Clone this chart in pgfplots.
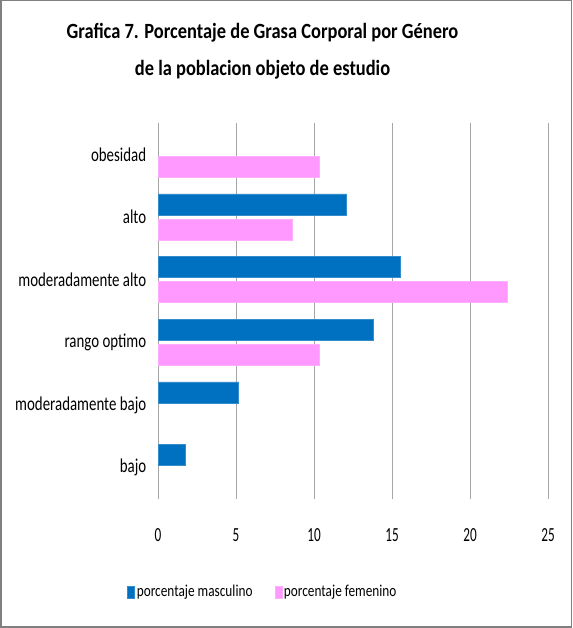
\documentclass[border=0pt]{standalone}
\usepackage{pgfplots}
\pgfplotsset{compat=1.18}
\usepackage{fontspec}
\setmainfont{Carlito}
\newfontfamily\titlefont[FakeStretch=0.85]{Carlito}
\newfontfamily\labelfont[FakeStretch=0.76]{Carlito}
\newfontfamily\tickfont[FakeStretch=0.66]{Carlito}
\newfontfamily\legfont[FakeStretch=0.8]{Carlito}
\definecolor{masc}{HTML}{0070C0}
\definecolor{fem}{HTML}{FF99FF}
\definecolor{gridc}{HTML}{A6A6A6}
\begin{document}
\begin{tikzpicture}
% marco exterior
\draw[gray, line width=1.5pt] (0.75pt,0.75pt) rectangle (571.25pt,627.25pt);
\node[font=\titlefont\bfseries\fontsize{21.7}{26}\selectfont, anchor=base] at (262.5pt,589pt)
  {Grafica 7. Porcentaje de Grasa Corporal por Género};
\node[font=\titlefont\bfseries\fontsize{21.7}{26}\selectfont, anchor=base] at (262.5pt,552pt)
  {de la poblacion objeto de estudio};
\begin{axis}[
  at={(158pt,129pt)}, anchor=south west,
  scale only axis, width=390pt, height=376pt,
  xbar,
  xmin=0, xmax=25, ymin=-0.5, ymax=5.5,
  xtick={0,5,...,25},
  ytick={0,...,5},
  yticklabels={bajo, moderadamente bajo, rango optimo, moderadamente alto, alto, obesidad},
  xmajorgrids, major grid style={gridc, line width=0.8pt},
  axis line style={draw=none},
  tick style={draw=none},
  /pgf/number format/assume math mode=true,
  xticklabel style={font=\tickfont\fontsize{20}{22}\selectfont, yshift=-26pt},
  yticklabel style={font=\labelfont\fontsize{19.6}{22}\selectfont, xshift=-4pt},
  bar width=0.335,
  legend style={at={(0.269,-0.247)}, anchor=center, draw=none, legend columns=2,
    font=\legfont\fontsize{16.6}{18}\selectfont,
    /tikz/every even column/.append style={column sep=20pt}},
  legend image code/.code={\fill[#1] (0pt,-6pt) rectangle (7pt,6pt);},
]
\addplot[fill=masc, draw=masc!80!white, bar shift=0.2] coordinates {
  (1.72,0) (5.17,1) (13.79,2) (15.52,3) (12.07,4)
};
\addplot[fill=fem, draw=fem!80!white, bar shift=-0.2] coordinates {
  (10.34,2) (22.41,3) (8.62,4) (10.34,5)
};
\legend{porcentaje masculino, porcentaje femenino}
\end{axis}
\end{tikzpicture}
\end{document}
